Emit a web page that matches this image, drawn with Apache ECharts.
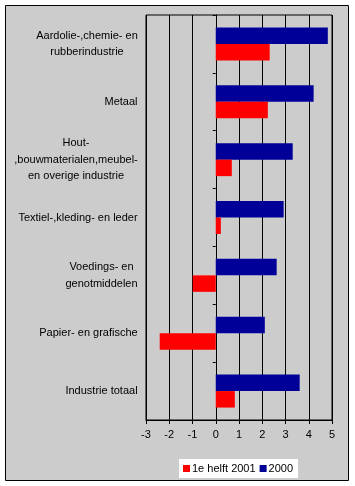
<!DOCTYPE html>
<html>
<head>
<meta charset="utf-8">
<script src="https://cdn.jsdelivr.net/npm/echarts@6/dist/echarts.min.js"></script>
<style>html,body{margin:0;padding:0;background:#fff;}#c{width:355px;height:486px;}</style>
</head>
<body>
<div id="c"></div>
<script>
const categories = [
  'Aardolie-,chemie- en\nrubberindustrie',
  'Metaal',
  'Hout-\n,bouwmaterialen,meubel-\nen overige industrie',
  'Textiel-,kleding- en leder',
  'Voedings- en\ngenotmiddelen',
  'Papier- en grafische',
  'Industrie totaal'
];
const seriesNames = ['2000', '1e helft 2001'];
const values2000 = [4.82, 4.21, 3.31, 2.92, 2.62, 2.11, 3.61];
const values2001 = [2.32, 2.24, 0.69, 0.22, -0.99, -2.41, 0.82];
const xMin = -3, xMax = 5, xInterval = 1;

const FONT = '"Liberation Sans", Arial, sans-serif';
const FS = 11;
const ctx = document.createElement('canvas').getContext('2d');
ctx.font = FS + 'px ' + FONT;
const rich = {};
categories.forEach((c, i) => {
  const w = Math.max(...c.split('\n').map(l => ctx.measureText(l).width));
  rich['c' + i] = {width: Math.ceil(w), align: 'center', fontSize: FS, fontFamily: FONT, color: '#000', lineHeight: 16.5};
});

const chart = echarts.init(document.getElementById('c'), null, {renderer: 'canvas'});
chart.setOption({
  backgroundColor: '#fff',
  animation: false,
  graphic: [{
    type: 'rect', z: -100, silent: true,
    shape: {x: 5.5, y: 5.5, width: 343, height: 475},
    style: {fill: '#cccccc', stroke: '#000', lineWidth: 1}
  }],
  grid: {left: 146, top: 15, width: 186, height: 405, show: true, borderColor: '#000', borderWidth: 1, backgroundColor: 'transparent'},
  legend: {
    data: ['1e helft 2001', '2000'],
    left: 179, top: 459,
    backgroundColor: '#fff', padding: [4, 5, 4, 4],
    itemWidth: 7, itemHeight: 7, itemGap: 4,
    icon: 'rect',
    textStyle: {fontSize: FS, fontFamily: FONT, color: '#000', padding: [0, 0, 0, -3]}
  },
  xAxis: {
    type: 'value', min: xMin, max: xMax, interval: xInterval,
    axisLine: {show: true, lineStyle: {color: '#000'}},
    axisTick: {show: true, length: 4, lineStyle: {color: '#000'}},
    splitLine: {show: true, lineStyle: {color: '#000'}},
    axisLabel: {fontSize: FS, fontFamily: FONT, color: '#000', margin: 9}
  },
  yAxis: [{
    type: 'category', data: categories, inverse: true,
    axisLine: {show: true, onZero: true, lineStyle: {color: '#000'}},
    axisTick: {show: true, length: 3, lineStyle: {color: '#000'}},
    axisLabel: {show: false}
  }, {
    type: 'category', data: categories, inverse: true, position: 'left',
    axisLine: {show: false, onZero: false},
    axisTick: {show: false},
    axisLabel: {
      show: true, margin: 8, align: 'right',
      formatter: (v, i) => v.split('\n').map(l => '{c' + i + '|' + l + '}').join('\n'),
      rich: rich
    }
  }],
  series: [{
    name: '2000', type: 'bar', data: values2000, yAxisIndex: 0,
    itemStyle: {color: '#000099'}, barCategoryGap: '43%', barGap: '0%'
  }, {
    name: '1e helft 2001', type: 'bar', data: values2001, yAxisIndex: 0,
    itemStyle: {color: '#ff0000'}, barCategoryGap: '43%', barGap: '0%'
  }]
});
</script>
</body>
</html>
